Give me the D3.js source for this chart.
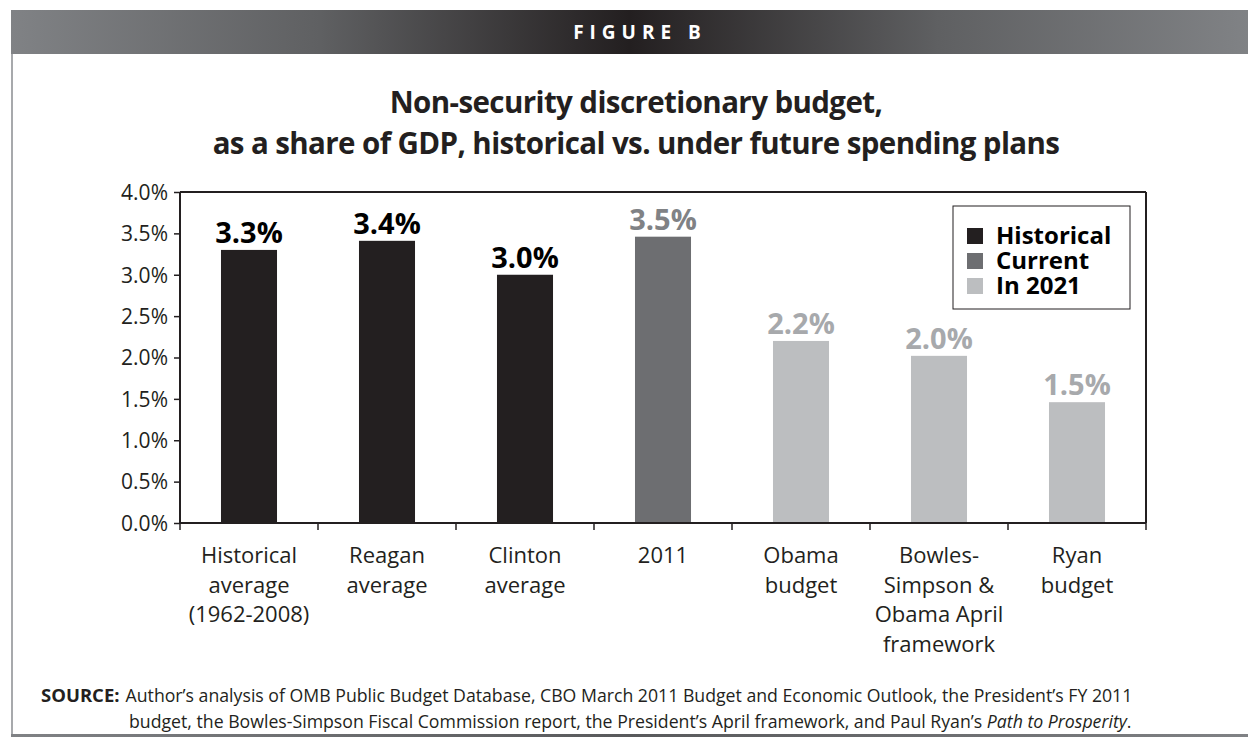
<!DOCTYPE html>
<html>
<head>
<meta charset="utf-8">
<script src="https://cdn.jsdelivr.net/npm/d3@7"></script>
<style>
  html, body { margin: 0; padding: 0; background: #fff; }
  svg { display: block; font-family: "Open Sans", "Noto Sans", sans-serif; }
</style>
</head>
<body>
<svg id="chart" width="1248" height="738"></svg>
<script>
// ---- data ----
const categories = [
  ["Historical", "average", "(1962-2008)"],
  ["Reagan", "average"],
  ["Clinton", "average"],
  ["2011"],
  ["Obama", "budget"],
  ["Bowles-", "Simpson &", "Obama April", "framework"],
  ["Ryan", "budget"]
];
const values = [3.3, 3.41, 3.0, 3.46, 2.2, 2.02, 1.46];
const groups = ["Historical", "Historical", "Historical", "Current", "In 2021", "In 2021", "In 2021"];
const legendLabels = ["Historical", "Current", "In 2021"];
const yTicks = [0, 0.5, 1.0, 1.5, 2.0, 2.5, 3.0, 3.5, 4.0];
const titleLines = ["Non-security discretionary budget,", "as a share of GDP, historical vs. under future spending plans"];
const figureLabel = "FIGURE B";

// ---- styles ----
const barColor = d3.scaleOrdinal().domain(legendLabels).range(["#231f20", "#6d6e71", "#bcbec0"]);
const labelColor = d3.scaleOrdinal().domain(legendLabels).range(["#000000", "#808285", "#a7a9ac"]);

const svg = d3.select("#chart");
const W = 1248, H = 738;

// header gradient
const defs = svg.append("defs");
const grad = defs.append("linearGradient").attr("id", "hdr").attr("x1", "0%").attr("x2", "100%");
grad.append("stop").attr("offset", "0%").attr("stop-color", "#808285");
grad.append("stop").attr("offset", "25%").attr("stop-color", "#5f6062");
grad.append("stop").attr("offset", "50%").attr("stop-color", "#231f20");
grad.append("stop").attr("offset", "75%").attr("stop-color", "#5f6062");
grad.append("stop").attr("offset", "100%").attr("stop-color", "#808285");

svg.append("rect").attr("x", 11).attr("y", 10).attr("width", W - 11).attr("height", 44).attr("fill", "url(#hdr)");
svg.append("text").attr("x", 640).attr("y", 39).attr("text-anchor", "middle")
  .attr("fill", "#fff").attr("font-weight", 700).attr("font-size", 19).attr("letter-spacing", 6)
  .text(figureLabel);

// frame
svg.append("line").attr("x1", 12).attr("x2", 12).attr("y1", 54).attr("y2", 736).attr("stroke", "#a7a9ac").attr("stroke-width", 2);
const grad2 = defs.append("linearGradient").attr("id", "btm").attr("x1", "0%").attr("x2", "100%");
grad2.append("stop").attr("offset", "0%").attr("stop-color", "#808285");
grad2.append("stop").attr("offset", "50%").attr("stop-color", "#58595b");
grad2.append("stop").attr("offset", "100%").attr("stop-color", "#808285");
svg.append("rect").attr("x", 11).attr("y", 734).attr("width", W - 11).attr("height", 3).attr("fill", "url(#btm)");

// title
svg.append("g").selectAll("text").data(titleLines).join("text")
  .attr("x", 636).attr("y", (d, i) => 113 + i * 41)
  .attr("text-anchor", "middle").attr("font-weight", 700).attr("font-size", 29.5)
  .attr("fill", "#231f20").attr("letter-spacing", -0.6)
  .text(d => d);

// scales
const x = d3.scaleBand().domain(d3.range(categories.length)).range([180, 1146]).paddingInner(0.594).paddingOuter(0.297);
const xBoundary = d3.scaleBand().domain(d3.range(categories.length)).range([180, 1146]).padding(0);
const y = d3.scaleLinear().domain([0, 4]).range([523, 192]);

// plot frame (top & right)
svg.append("line").attr("x1", 180).attr("x2", 1146).attr("y1", y(4)).attr("y2", y(4)).attr("stroke", "#231f20").attr("stroke-width", 2);
svg.append("line").attr("x1", 1146).attr("x2", 1146).attr("y1", y(4)).attr("y2", y(0)).attr("stroke", "#231f20").attr("stroke-width", 2);

// bars
svg.append("g").selectAll("rect").data(values).join("rect")
  .attr("x", (d, i) => x(i)).attr("width", x.bandwidth())
  .attr("y", d => y(d)).attr("height", d => y(0) - y(d))
  .attr("fill", (d, i) => barColor(groups[i]));

// value labels
const fmt = d3.format(".1f");
svg.append("g").selectAll("text").data(values).join("text")
  .attr("x", (d, i) => x(i) + x.bandwidth() / 2).attr("y", d => y(d) - 7)
  .attr("text-anchor", "middle").attr("font-weight", 700).attr("font-size", 29)
  .attr("fill", (d, i) => labelColor(groups[i]))
  .text(d => fmt(d) + "%");

// y axis
const yAxis = svg.append("g").attr("transform", "translate(180,0)")
  .call(d3.axisLeft(y).tickValues(yTicks).tickFormat(d => d3.format(".1f")(d) + "%").tickSize(6).tickPadding(6));
yAxis.select(".domain").attr("stroke", "#231f20").attr("stroke-width", 2).attr("d", `M0,${y(4)}V${y(0)}`);
yAxis.selectAll(".tick line").attr("stroke", "#231f20").attr("stroke-width", 1.5);
yAxis.selectAll(".tick text").attr("font-size", 21).attr("fill", "#231f20").attr("font-family", "Open Sans").attr("dy", "0.35em");

// x axis
const xAxisG = svg.append("g");
xAxisG.append("line").attr("x1", 180).attr("x2", 1146).attr("y1", y(0)).attr("y2", y(0)).attr("stroke", "#231f20").attr("stroke-width", 2);
const boundaries = d3.range(categories.length + 1).map(i => i < categories.length ? xBoundary(i) : 1146);
xAxisG.selectAll("line.tk").data(boundaries).join("line").attr("class", "tk")
  .attr("x1", d => d).attr("x2", d => d).attr("y1", y(0)).attr("y2", y(0) + 7)
  .attr("stroke", "#231f20").attr("stroke-width", 1.5);
const catLabels = xAxisG.selectAll("text.cat").data(categories).join("text").attr("class", "cat")
  .attr("text-anchor", "middle").attr("font-size", 22).attr("fill", "#231f20")
  .attr("transform", (d, i) => `translate(${x(i) + x.bandwidth() / 2},563)`);
catLabels.selectAll("tspan").data(d => d).join("tspan")
  .attr("x", 0).attr("y", (d, i) => i * 29.5).text(d => d);

// legend
const lg = svg.append("g");
lg.append("rect").attr("x", 953).attr("y", 206).attr("width", 177).attr("height", 103)
  .attr("fill", "#fff").attr("stroke", "#231f20").attr("stroke-width", 1);
const items = lg.selectAll("g.item").data(legendLabels).join("g").attr("class", "item")
  .attr("transform", (d, i) => `translate(967,${228 + i * 25})`);
items.append("rect").attr("width", 16).attr("height", 16).attr("fill", d => barColor(d));
items.append("text").attr("x", 29).attr("y", 16).attr("font-weight", 700).attr("font-size", 24)
  .attr("fill", "#000").text(d => d);

// source
const src = svg.append("text").attr("font-size", 17.7).attr("fill", "#231f20");
src.append("tspan").attr("x", 41).attr("y", 702).attr("font-weight", 700).attr("font-size", 18.5).text("SOURCE:");
src.append("tspan").attr("dx", 6).text("Author\u2019s analysis of OMB Public Budget Database, CBO March 2011 Budget and Economic Outlook, the President\u2019s FY 2011");
const src2 = svg.append("text").attr("font-size", 17.7).attr("fill", "#231f20").attr("x", 129).attr("y", 728);
src2.append("tspan").text("budget, the Bowles-Simpson Fiscal Commission report, the President\u2019s April framework, and Paul Ryan\u2019s ");
src2.append("tspan").attr("font-style", "italic").text("Path to Prosperity");
src2.append("tspan").text(".");
</script>
</body>
</html>
